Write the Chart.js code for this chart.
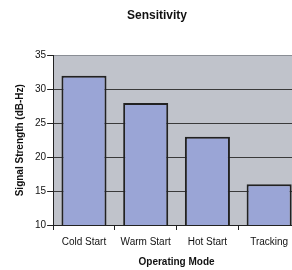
<!DOCTYPE html>
<html>
<head>
<meta charset="utf-8">
<script src="https://cdn.jsdelivr.net/npm/chart.js@4.4.1/dist/chart.umd.min.js"></script>
<style>
  html, body { margin: 0; padding: 0; background: #fff; overflow: hidden; }
  /* the original is cropped on the right, so the chart is a bit wider than the window */
  #wrap { width: 300px; height: 270px; }
</style>
</head>
<body>
<div id="wrap"><canvas id="sensitivity"></canvas></div>
<script>
var modes = ["Cold Start", "Warm Start", "Hot Start", "Tracking"];
var signalStrength = [32, 28, 23, 16];
var yTicks = [10, 15, 20, 25, 30, 35];

// grey plot background like the old excel charts
var plotBg = {
  id: "plotBg",
  beforeDraw: function(chart) {
    var a = chart.chartArea;
    var ctx = chart.ctx;
    ctx.save();
    ctx.fillStyle = "#c0c3cb";
    ctx.fillRect(a.left, a.top, a.right - a.left, a.bottom - a.top);
    ctx.restore();
  }
};

var font = "'Liberation Sans', Arial, sans-serif";

var ctx = document.getElementById("sensitivity").getContext("2d");
var chart = new Chart(ctx, {
  type: "bar",
  data: {
    labels: modes,
    datasets: [
      {
        data: signalStrength,
        backgroundColor: "#9aa5d6",
        borderColor: "#222222",
        borderWidth: 2,
        borderSkipped: false,
        barPercentage: 0.73,
        categoryPercentage: 1
      }
    ]
  },
  options: {
    responsive: true,
    maintainAspectRatio: false,
    animation: false,
    layout: { padding: { top: 0, right: 0, left: 14, bottom: 0 } },
    plugins: {
      legend: { display: false },
      tooltip: { enabled: false },
      title: {
        display: true,
        text: "Sensitivity",
        color: "#111",
        font: { family: font, size: 12, weight: "bold" },
        padding: { top: 8, bottom: 33 }
      }
    },
    scales: {
      x: {
        grid: {
          offset: true,
          drawOnChartArea: false,
          tickLength: 5,
          color: "#222"
        },
        border: { color: "#222", width: 1 },
        ticks: {
          color: "#111",
          font: { family: font, size: 10 },
          padding: 6,
          maxRotation: 0
        },
        title: {
          display: true,
          text: "Operating Mode",
          color: "#111",
          font: { family: font, size: 10, weight: "bold" },
          padding: { top: 2, bottom: 2 }
        }
      },
      y: {
        min: yTicks[0],
        max: yTicks[yTicks.length - 1],
        afterBuildTicks: function(axis) {
          axis.ticks = yTicks.map(function(v) { return { value: v }; });
        },
        grid: {
          color: function(c) {
            return c.tick && c.tick.value === 35 ? "#8a8e95" : "#3a3a3a";
          },
          lineWidth: 1,
          tickLength: 6,
          tickColor: "#222"
        },
        border: { color: "#222", width: 1 },
        ticks: {
          color: "#111",
          font: { family: font, size: 10 },
          padding: 1
        },
        title: {
          display: true,
          text: "Signal Strength (dB-Hz)",
          color: "#111",
          font: { family: font, size: 10, weight: "bold" },
          padding: { top: 0, bottom: 8 }
        }
      }
    }
  },
  plugins: [plotBg]
});
</script>
</body>
</html>
